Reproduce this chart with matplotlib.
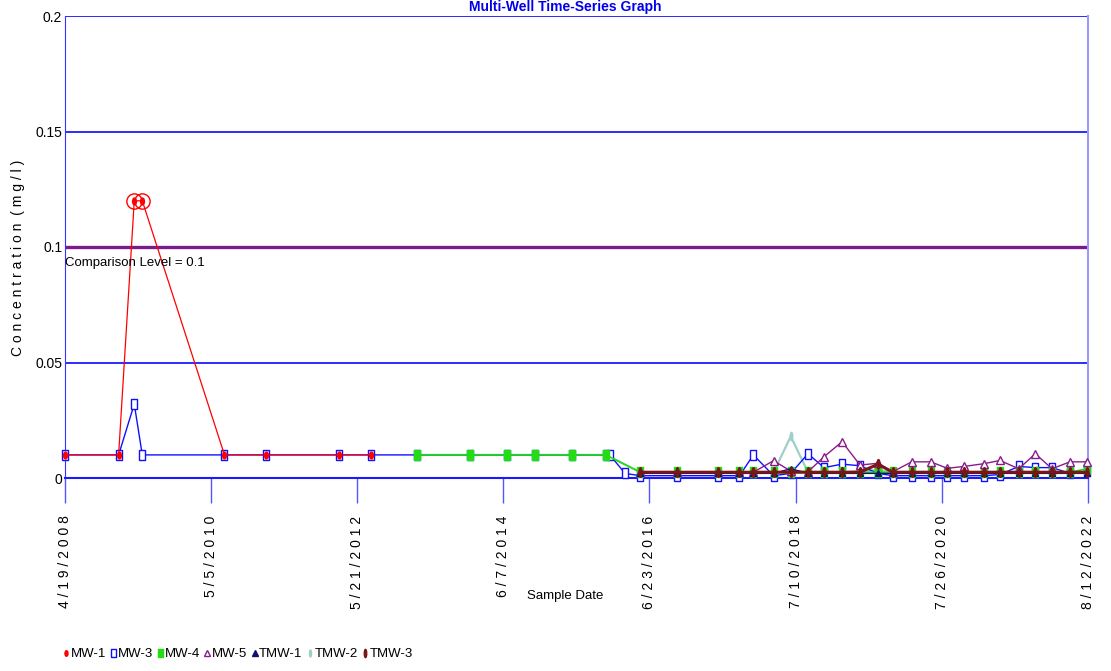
import numpy as np
import pandas as pd
import matplotlib
matplotlib.use('Agg')
import matplotlib.pyplot as plt
from matplotlib.lines import Line2D

plt.rcParams['font.family'] = ['Liberation Sans', 'DejaVu Sans']

# ---- data ----
early_dates = ['2008-04-19', '2009-01-18', '2009-04-08', '2009-05-19',
               '2010-07-13', '2011-02-08', '2012-02-17', '2012-07-31']
mid_dates = ['2013-03-25', '2013-12-21', '2014-06-24', '2014-11-17',
             '2015-05-26', '2015-11-13']
late_dates = ['2016-05-07', '2016-11-10', '2017-06-09', '2017-09-26',
              '2017-12-06', '2018-03-19', '2018-06-15', '2018-09-11',
              '2018-12-02', '2019-03-04', '2019-06-04', '2019-09-04',
              '2019-11-18', '2020-02-23', '2020-05-30', '2020-08-23',
              '2020-11-16', '2021-02-27', '2021-05-19', '2021-08-23',
              '2021-11-16', '2022-02-09', '2022-05-12', '2022-08-09']
mw3_extra_dates = ['2015-12-03', '2016-02-19']

mw1 = [0.01, 0.01, 0.12, 0.12, 0.01, 0.01, 0.01, 0.01]
mw3_early = [0.01, 0.01, 0.032, 0.01, 0.01, 0.01, 0.01, 0.01]
mw3_mid = [0.01, 0.01, 0.01, 0.01, 0.01, 0.01]
mw3_extra = [0.01, 0.002]
mw3_late = [0.001, 0.001, 0.001, 0.001, 0.01, 0.001, 0.002, 0.0105,
            0.0045, 0.006, 0.0053, 0.002, 0.001, 0.001, 0.001, 0.001,
            0.001, 0.001, 0.0015, 0.005, 0.0045, 0.0045, 0.002, 0.003]
mw4_mid = [0.01, 0.01, 0.01, 0.01, 0.01, 0.01]
mw4_late = [0.0025] * 23 + [0.004]
mw5_late = [0.0025, 0.0025, 0.0025, 0.0025, 0.0025, 0.0075, 0.003, 0.0027,
            0.0092, 0.0157, 0.0056, 0.0064, 0.0027, 0.007, 0.007, 0.0042,
            0.005, 0.0062, 0.0076, 0.004, 0.0105, 0.004, 0.007, 0.007]
tmw1_late = [0.002, 0.002, 0.002, 0.002, 0.002, 0.002, 0.004, 0.002,
             0.002, 0.002, 0.002, 0.002, 0.002, 0.002, 0.002, 0.002,
             0.002, 0.002, 0.002, 0.002, 0.002, 0.002, 0.002, 0.002]
tmw2_mid = [0.01, 0.01, 0.01, 0.01, 0.01, 0.01]
tmw2_late = [0.0025, 0.0025, 0.0025, 0.0025, 0.0025, 0.0025, 0.018, 0.0025,
             0.0025, 0.0025, 0.003, 0.0035, 0.0025, 0.0025, 0.0025, 0.0025,
             0.0025, 0.0025, 0.0025, 0.0025, 0.0025, 0.0025, 0.0025, 0.0025]
tmw3_late = [0.0025, 0.0025, 0.0025, 0.0025, 0.0025, 0.0025, 0.0025, 0.0025,
             0.0025, 0.0025, 0.0025, 0.006, 0.0025, 0.0025, 0.0025, 0.0025,
             0.0025, 0.0025, 0.0025, 0.0025, 0.0025, 0.0025, 0.0025, 0.0025]

comparison_level = 0.1
tick_dates = ['2008-04-19', '2010-05-05', '2012-05-21', '2014-06-07',
              '2016-06-23', '2018-07-10', '2020-07-26', '2022-08-12']
y_ticks = [0, 0.05, 0.1, 0.15, 0.2]
y_labels = ['0', '0.05', '0.1', '0.15', '0.2']

# narrow marker shapes (chart markers look squeezed sideways)
t = np.linspace(0, 2 * np.pi, 30)
ellipse = list(zip(0.55 * np.cos(t), np.sin(t)))
thin_ellipse = list(zip(0.3 * np.cos(t), np.sin(t)))
tall_rect = [(-0.6, -1), (0.6, -1), (0.6, 1), (-0.6, 1), (-0.6, -1)]

series = [
    # name, dates, values, color, marker, size, filled, lw
    ('TMW-2', mid_dates + late_dates, tmw2_mid + tmw2_late, '#9fcfc8', thin_ellipse, 6, True, 1.6),
    ('MW-3', early_dates + mid_dates + mw3_extra_dates + late_dates,
     mw3_early + mw3_mid + mw3_extra + mw3_late, '#1010ff', tall_rect, 7, False, 1.0),
    ('MW-4', mid_dates + late_dates, mw4_mid + mw4_late, '#22dd11', tall_rect, 7, True, 1.2),
    ('MW-5', late_dates, mw5_late, '#8b1a8b', '^', 6, False, 1.0),
    ('TMW-1', late_dates, tmw1_late, '#10106e', '^', 5, True, 1.0),
    ('TMW-3', late_dates, tmw3_late, '#7a1616', thin_ellipse, 7, True, 2.2),
    ('MW-1', early_dates, mw1, '#ff0000', ellipse, 5, True, 0.9),
]
legend_order = ['MW-1', 'MW-3', 'MW-4', 'MW-5', 'TMW-1', 'TMW-2', 'TMW-3']

fig = plt.figure(figsize=(11.11, 6.71), dpi=100)
ax = fig.add_axes([65 / 1111, 193 / 671, 1023 / 1111, 462 / 671])

handles = {}
for name, d, v, col, mk, ms, filled, lw in series:
    x = pd.to_datetime(d)
    ax.plot(x, v, color=col, lw=lw, marker=mk, ms=ms,
            mfc=col if filled else 'white', mec=col, mew=1.0,
            clip_on=False, zorder=3)
    handles[name] = Line2D([], [], ls='none', marker=mk, ms=ms - 1, color=col,
                           mfc=col if filled else 'white', mec=col)

# ring around values above the comparison level
mw1_x = pd.to_datetime(early_dates)
over = np.array(mw1) > comparison_level
ax.plot(mw1_x[over], np.array(mw1)[over], ls='none', marker='o', ms=11,
        mfc='none', mec='#ff0000', mew=1.0, zorder=4)

ax.axhline(comparison_level, color='#7b1a8e', lw=2.4, zorder=2)
ax.annotate('Comparison Level = 0.1', xy=(pd.Timestamp('2008-04-19'), comparison_level),
            xytext=(0, -7), textcoords='offset points', ha='left', va='top',
            fontsize=9.5)

ax.set_xlim(pd.Timestamp('2008-04-19'), pd.Timestamp('2022-08-12'))
ax.set_ylim(0, 0.2)

ax.set_yticks(y_ticks)
ax.set_yticklabels(y_labels, fontsize=10)
ax.tick_params(axis='y', length=0, pad=2)
ax.yaxis.grid(True, color='#1a1aff', lw=1.3, zorder=1)

tk = pd.to_datetime(tick_dates)
ax.set_xticks(tk)
ax.set_xticklabels([' '.join(f'{d.month}/{d.day}/{d.year}') for d in tk],
                   rotation=90, fontsize=10)
ax.tick_params(axis='x', length=18, width=1, color='#5555ff', pad=9)

ax.spines['top'].set_visible(False)
ax.spines['left'].set_color('#3333ff')
ax.spines['bottom'].set_color('#1a1aff')
ax.spines['bottom'].set_linewidth(1.5)
ax.spines['right'].set_color('#9a9aff')
ax.spines['right'].set_linewidth(1.5)

fig.text(565 / 1111, 1.0, 'Multi-Well Time-Series Graph', ha='center',
         va='top', fontsize=10, fontweight='bold', color='#0000ee')
fig.text(565 / 1111, 1 - 596 / 671, 'Sample Date', ha='center', va='center',
         fontsize=9.5)
fig.text(18 / 1111, 1 - 258 / 671, ' '.join('Concentration') + '  ( m g / l )',
         rotation=90, ha='center', va='center', fontsize=10)

fig.legend([handles[n] for n in legend_order], legend_order,
           loc='center left', bbox_to_anchor=(56 / 1111, 1 - 654 / 671),
           ncol=7, frameon=False, fontsize=9.5, handlelength=0.5,
           handletextpad=0.1, columnspacing=0.3, borderpad=0)

fig.savefig('out.png', dpi=100)
